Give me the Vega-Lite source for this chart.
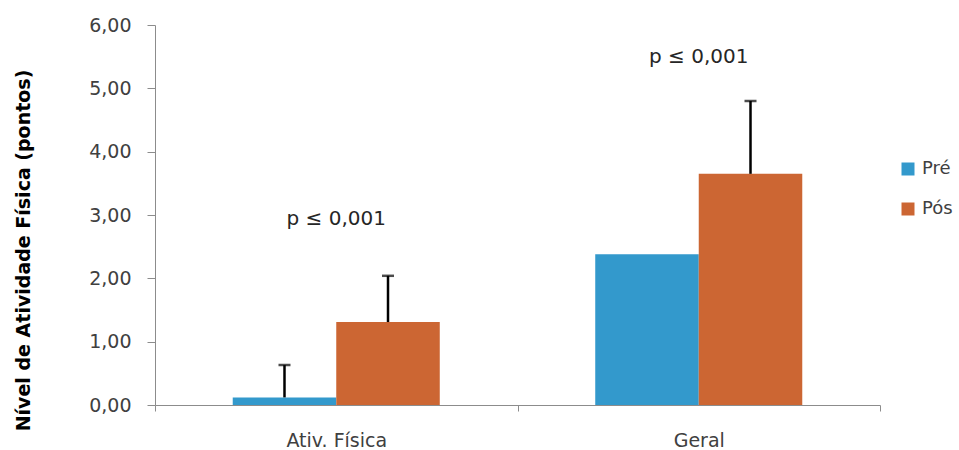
{
  "$schema": "https://vega.github.io/schema/vega-lite/v6.json",
  "width": 725,
  "height": 380,
  "autosize": {"type": "none"},
  "padding": {"left": 155, "top": 25, "right": 79, "bottom": 45},
  "background": "white",
  "config": {
    "locale": {"number": {"decimal": ",", "thousands": ".", "grouping": [3], "currency": ["", ""]}},
    "font": "DejaVu Sans",
    "view": {"stroke": null}
  },
  "datasets": {
    "barras": [
      {"cat": "Ativ. Física", "grupo": "Pré", "valor": 0.12, "sup": 0.63},
      {"cat": "Ativ. Física", "grupo": "Pós", "valor": 1.31, "sup": 2.04},
      {"cat": "Geral", "grupo": "Pré", "valor": 2.38, "sup": null},
      {"cat": "Geral", "grupo": "Pós", "valor": 3.65, "sup": 4.80}
    ],
    "notas": [
      {"cat": "Ativ. Física", "texto": "p ≤ 0,001", "y": 2.94},
      {"cat": "Geral", "texto": "p ≤ 0,001", "y": 5.49}
    ]
  },
  "encoding": {
    "x": {
      "field": "cat", "type": "nominal", "sort": ["Ativ. Física", "Geral"],
      "scale": {"paddingInner": 0, "paddingOuter": 0},
      "axis": {
        "title": null, "labelAngle": 0, "tickBand": "extent", "tickSize": 6,
        "domainColor": "#8c8c8c", "tickColor": "#8c8c8c", "labelFontSize": 19,
        "labelColor": "#404040", "labelPadding": 20, "labelFont": "DejaVu Sans"
      }
    }
  },
  "layer": [
    {
      "data": {"name": "barras"},
      "mark": {"type": "bar"},
      "encoding": {
        "xOffset": {"field": "grupo", "type": "nominal", "sort": ["Pré", "Pós"],
          "scale": {"paddingInner": 0, "paddingOuter": 0.751}},
        "y": {
          "field": "valor", "type": "quantitative",
          "scale": {"domain": [0, 6], "nice": false},
          "axis": {
            "title": "Nível de Atividade Física (pontos)",
            "titleFont": "DejaVu Sans", "titleFontSize": 19, "titleFontWeight": "bold", "titleColor": "#000000",
            "titleX": -132, "titleY": 225, "titleAngle": -90, "titleAlign": "center", "titleBaseline": "middle",
            "values": [0, 1, 2, 3, 4, 5, 6], "format": ".2f", "grid": false,
            "tickSize": 8, "labelPadding": 16, "labelFontSize": 19, "labelColor": "#404040",
            "labelFont": "DejaVu Sans",
            "domainColor": "#8c8c8c", "tickColor": "#8c8c8c"
          }
        },
        "color": {
          "field": "grupo", "type": "nominal", "sort": ["Pré", "Pós"],
          "scale": {"domain": ["Pré", "Pós"], "range": ["#3399cc", "#cc6633"]},
          "legend": {
            "title": null, "orient": "none", "legendX": 744, "legendY": 135,
            "symbolType": "square", "symbolSize": 169, "symbolStrokeWidth": 0,
            "labelFontSize": 18, "labelColor": "#404040", "labelFont": "DejaVu Sans",
            "rowPadding": 22, "padding": 0, "labelOffset": 5
          }
        }
      }
    },
    {
      "data": {"name": "barras"},
      "transform": [{"filter": "datum.sup != null"}],
      "mark": {"type": "rule", "color": "#000000", "strokeWidth": 2.5},
      "encoding": {
        "xOffset": {"field": "grupo", "type": "nominal", "sort": ["Pré", "Pós"]},
        "y": {"field": "valor", "type": "quantitative"},
        "y2": {"field": "sup"}
      }
    },
    {
      "data": {"name": "barras"},
      "transform": [{"filter": "datum.sup != null"}],
      "mark": {"type": "tick", "color": "#000000", "thickness": 2.5, "size": 12, "orient": "horizontal"},
      "encoding": {
        "xOffset": {"field": "grupo", "type": "nominal", "sort": ["Pré", "Pós"]},
        "y": {"field": "sup", "type": "quantitative"}
      }
    },
    {
      "data": {"name": "notas"},
      "mark": {"type": "text", "fontSize": 20, "font": "DejaVu Sans", "color": "#262626", "baseline": "middle"},
      "encoding": {
        "y": {"field": "y", "type": "quantitative"},
        "text": {"field": "texto"}
      }
    }
  ]
}
